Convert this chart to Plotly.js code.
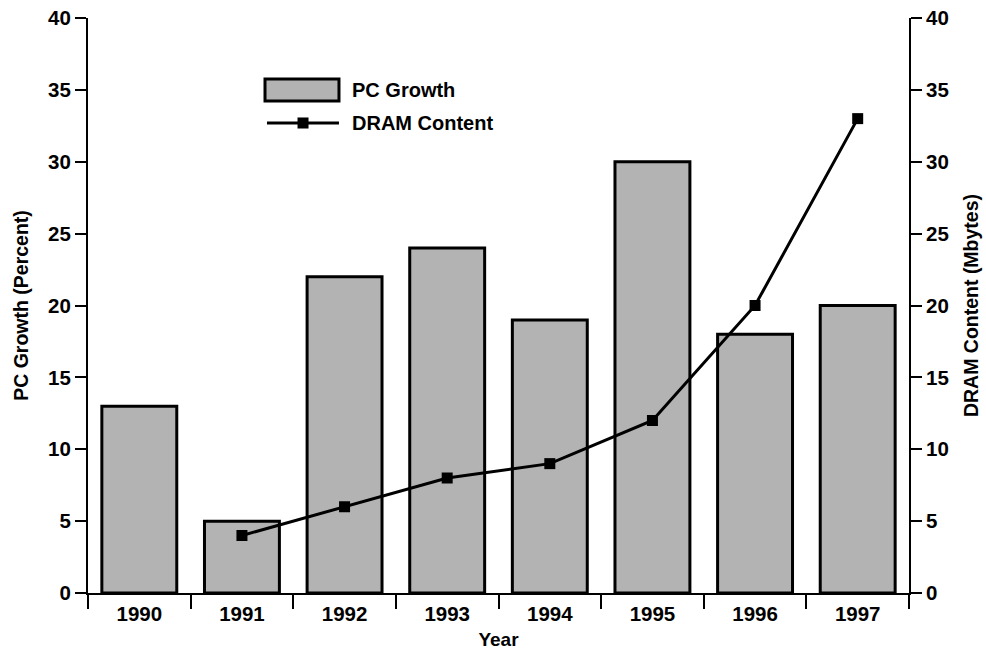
<!DOCTYPE html>
<html>
<head>
<meta charset="utf-8">
<script src="https://cdn.plot.ly/plotly-3.0.1.min.js"></script>
<style>html,body{margin:0;padding:0;background:#fff;}#chart{width:986px;height:650px;}</style>
</head>
<body>
<div id="chart"></div>
<script>
const years = ["1990","1991","1992","1993","1994","1995","1996","1997"];
const pcGrowth = [13, 5, 22, 24, 19, 30, 18, 20];
const dramYears = ["1991","1992","1993","1994","1995","1996","1997"];
const dramContent = [4, 6, 8, 9, 12, 20, 33];
const yTicks = [0,5,10,15,20,25,30,35,40];

const FONT = "Liberation Sans, Arial, Helvetica, sans-serif";
const tickFont = {family: FONT, size: 20.5, color: "#000", weight: "bold"};
const titleFont = {family: FONT, size: 19.5, color: "#000", weight: "bold"};
const legendFont = {family: FONT, size: 20, color: "#000", weight: "bold"};

const traces = [
  {
    type: "bar", name: "PC Growth", x: years, y: pcGrowth,
    marker: {color: "#b3b3b3", line: {color: "#000", width: 3}},
    showlegend: false, hoverinfo: "x+y"
  },
  {
    type: "scatter", mode: "lines+markers", name: "DRAM Content",
    x: dramYears, y: dramContent, yaxis: "y2",
    line: {color: "#000", width: 3},
    marker: {symbol: "square", size: 11, color: "#000"},
    showlegend: false
  }
];

const layout = {
  width: 986, height: 650,
  margin: {l: 88, r: 77, t: 18, b: 57},
  paper_bgcolor: "#fff", plot_bgcolor: "#fff",
  bargap: 0.27,
  font: {family: FONT, color: "#000"},
  xaxis: {
    type: "category", range: [-0.5, 7.5],
    showline: true, linecolor: "#000", linewidth: 2,
    ticks: "outside", tickson: "boundaries", ticklen: 14, tickwidth: 2, tickcolor: "#000",
    ticklabelstandoff: 1,
    tickfont: tickFont, showgrid: false, zeroline: false,
    title: {text: "Year", font: {family: FONT, size: 19, color: "#000", weight: "bold"}, standoff: 9}
  },
  yaxis: {
    range: [0, 40], tickvals: yTicks,
    showline: true, linecolor: "#000", linewidth: 2,
    ticks: "outside", ticklen: 11, tickwidth: 2, tickcolor: "#000",
    tickfont: tickFont, showgrid: false, zeroline: false,
    title: {text: "PC Growth (Percent)", font: titleFont, standoff: 14}
  },
  yaxis2: {
    range: [0, 40], tickvals: yTicks, overlaying: "y", side: "right",
    showline: true, linecolor: "#000", linewidth: 2,
    ticks: "outside", ticklen: 11, tickwidth: 2, tickcolor: "#000",
    tickfont: tickFont, showgrid: false, zeroline: false,
    title: {text: "DRAM Content (Mbytes)", font: titleFont, standoff: 16}
  },
  shapes: [
    {type: "rect", xref: "paper", yref: "paper", x0: 0.2156, x1: 0.3057, y0: 0.8557, y1: 0.8939,
     fillcolor: "#b3b3b3", line: {color: "#000", width: 3}},
    {type: "line", xref: "paper", yref: "paper", x0: 0.2180, x1: 0.3057, y0: 0.8174, y1: 0.8174,
     line: {color: "#000", width: 3}},
    {type: "rect", xref: "paper", yref: "paper", x0: 0.2552, x1: 0.2686, y0: 0.8078, y1: 0.8270,
     fillcolor: "#000", line: {color: "#000", width: 0}}
  ],
  annotations: [
    {xref: "paper", yref: "paper", x: 0.319, y: 0.8748, xanchor: "left", yanchor: "middle",
     text: "PC Growth", showarrow: false, font: legendFont},
    {xref: "paper", yref: "paper", x: 0.319, y: 0.8174, xanchor: "left", yanchor: "middle",
     text: "DRAM Content", showarrow: false, font: legendFont}
  ]
};

Plotly.newPlot("chart", traces, layout, {displayModeBar: false, staticPlot: true});
</script>
</body>
</html>
